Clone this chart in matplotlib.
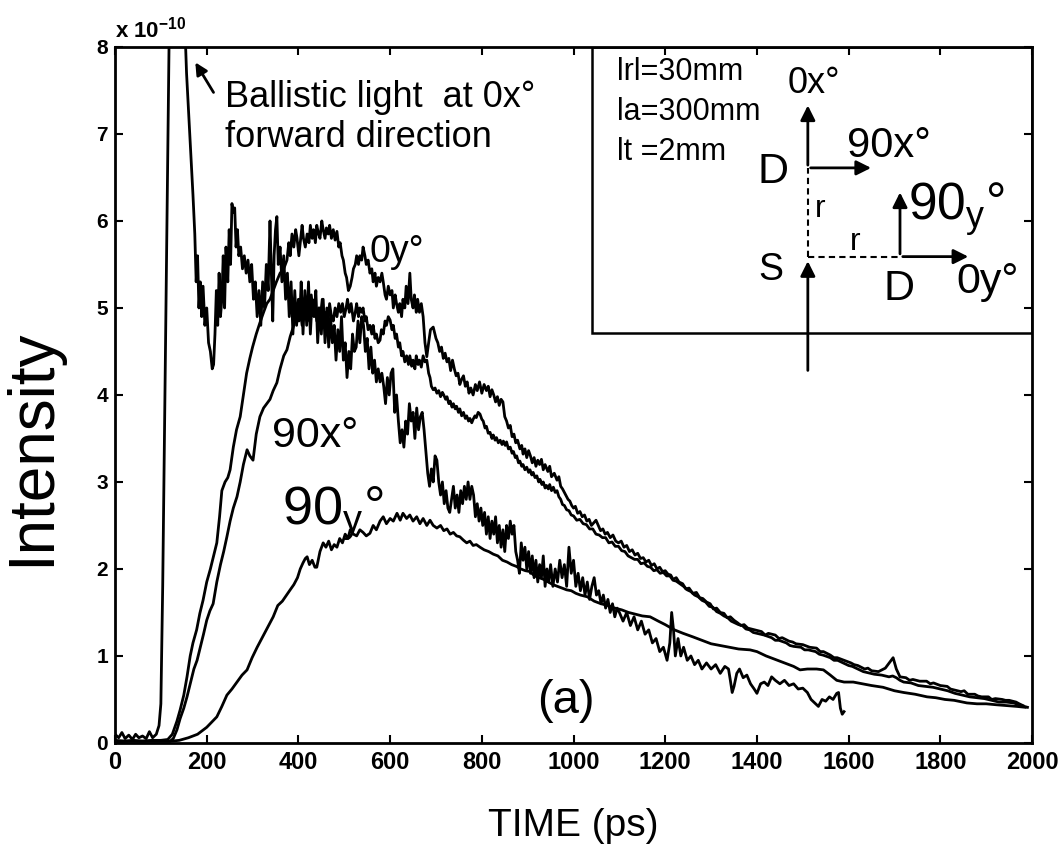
import numpy as np
import matplotlib
matplotlib.use("Agg")
from matplotlib import pyplot as plt
from matplotlib.patches import Rectangle

plt.rcParams['font.family'] = ['Liberation Sans', 'DejaVu Sans']
plt.rcParams['mathtext.default'] = 'regular'

# (time ps, intensity x1e-10)
# 0x : ballistic spike then noisy diffuse tail, stops at 1600 ps
curve_0x = [(0, 0.1), (8, 0.06), (15, 0.12), (22, 0.05), (30, 0.09), (38, 0.04), (45, 0.1), (52, 0.06),
            (60, 0.08), (68, 0.05), (75, 0.13), (82, 0.06), (90, 0.1), (96, 0.2), (100, 0.45),
            (104, 1.8), (108, 3.6), (112, 5.4), (116, 7.2), (120, 9.0), (126, 11.0), (132, 12.0),
            (138, 12.0), (144, 11.0), (150, 8.6), (156, 7.7), (160, 7.3), (165, 6.8), (170, 6.3),
            (174, 5.85), (177, 5.3), (180, 5.6), (183, 5.0), (186, 5.3), (189, 4.9), (192, 5.25),
            (196, 4.8), (200, 5.0), (204, 4.6), (208, 4.5), (212, 4.3), (215, 4.35), (218, 4.7),
            (221, 5.2), (224, 4.8), (227, 5.4), (230, 4.9), (233, 5.1), (236, 5.6), (239, 5.0),
            (242, 5.7), (246, 5.3), (249, 5.9), (252, 5.5), (255, 6.2), (258, 6.1), (261, 6.15),
            (264, 5.7), (267, 5.9), (270, 5.6), (274, 5.7), (278, 5.45), (282, 5.6), (286, 5.4),
            (290, 5.55), (294, 5.3), (298, 5.5), (302, 5.1), (306, 5.3), (310, 4.9), (314, 5.2),
            (318, 4.8), (322, 5.3), (326, 5.0), (330, 5.5), (334, 5.2), (338, 6.0), (341, 5.4),
            (344, 4.85), (347, 5.6), (350, 5.9), (353, 6.05), (356, 5.5), (360, 5.7), (364, 5.3),
            (368, 5.6), (372, 5.1), (376, 5.4), (380, 4.9), (384, 5.3), (388, 4.7), (392, 5.2),
            (396, 4.8), (400, 5.1), (403, 4.9), (406, 5.3), (410, 4.7), (414, 5.2), (418, 4.8),
            (422, 5.3), (426, 4.7), (430, 5.1), (434, 4.9), (438, 5.2), (442, 4.6), (446, 5.0),
            (450, 4.7), (454, 5.1), (458, 4.6), (462, 5.0), (466, 4.55), (470, 4.9), (474, 4.6),
            (478, 4.8), (482, 4.4), (486, 4.75), (490, 4.5), (494, 4.9), (498, 4.4), (502, 4.6),
            (506, 4.2), (510, 4.5), (514, 4.3), (518, 4.7), (522, 4.5), (526, 4.55), (530, 4.85),
            (534, 4.6), (538, 4.9), (542, 4.8), (546, 4.5), (550, 4.65), (554, 4.3), (558, 4.55),
            (562, 4.25), (566, 4.4), (570, 4.15), (574, 4.3), (578, 4.15), (582, 4.25), (586, 4.1),
            (590, 3.9), (594, 4.2), (598, 4.0), (602, 4.25), (606, 4.3), (610, 3.8), (614, 4.0),
            (618, 3.7), (622, 3.45), (626, 3.6), (630, 3.4), (634, 3.7), (638, 3.55), (642, 3.9),
            (646, 3.7), (650, 3.8), (654, 3.5), (658, 3.85), (662, 3.6), (666, 3.75), (670, 3.8),
            (674, 3.6), (678, 3.35), (682, 3.1), (686, 2.95), (690, 3.15), (694, 3.0), (698, 3.3),
            (702, 3.25), (706, 3.0), (710, 2.85), (714, 3.0), (718, 2.75), (722, 2.9), (726, 2.7),
            (730, 2.65), (734, 2.8), (738, 2.95), (742, 2.7), (746, 2.85), (750, 2.65), (754, 2.9),
            (758, 2.75), (762, 2.95), (766, 2.8), (770, 3.0), (774, 2.8), (778, 2.95), (782, 2.85),
            (786, 2.6), (790, 2.75), (794, 2.55), (798, 2.7), (802, 2.5), (806, 2.65), (810, 2.4),
            (814, 2.6), (818, 2.35), (822, 2.55), (826, 2.4), (830, 2.6), (834, 2.3), (838, 2.5),
            (842, 2.25), (846, 2.45), (850, 2.2), (854, 2.5), (858, 2.35), (862, 2.55), (866, 2.4),
            (870, 2.5), (874, 2.2), (878, 2.1), (882, 1.95), (886, 2.3), (890, 2.1), (894, 2.25),
            (898, 2.0), (902, 2.2), (906, 1.95), (910, 2.15), (914, 1.9), (918, 2.1), (922, 1.85),
            (926, 2.05), (930, 1.9), (934, 2.15), (938, 1.8), (942, 2.0), (946, 1.85), (950, 2.05),
            (955, 1.8), (960, 2.0), (965, 1.85), (970, 2.1), (975, 1.9), (980, 2.05), (985, 1.8),
            (990, 2.25), (995, 1.95), (1000, 2.1), (1005, 1.8), (1010, 1.95), (1015, 1.75),
            (1020, 1.9), (1025, 1.7), (1030, 1.85), (1035, 1.65), (1040, 1.8), (1045, 1.9),
            (1050, 1.7), (1055, 1.75), (1060, 1.6), (1065, 1.7), (1070, 1.55), (1075, 1.65),
            (1080, 1.5), (1085, 1.6), (1090, 1.45), (1095, 1.55), (1100, 1.5), (1108, 1.4),
            (1116, 1.5), (1124, 1.35), (1132, 1.45), (1140, 1.3), (1148, 1.4), (1156, 1.25),
            (1164, 1.3), (1172, 1.15), (1180, 1.2), (1188, 1.05), (1196, 1.1), (1204, 0.95),
            (1210, 1.15), (1214, 1.5), (1218, 1.3), (1222, 1.0), (1228, 1.2), (1234, 1.0),
            (1240, 1.1), (1248, 0.95), (1256, 1.0), (1264, 0.9), (1272, 0.95), (1280, 0.85),
            (1290, 0.92), (1300, 0.85), (1310, 0.9), (1320, 0.8), (1330, 0.88), (1338, 0.85),
            (1342, 0.72), (1346, 0.58), (1350, 0.65), (1356, 0.8), (1362, 0.85), (1370, 0.75),
            (1378, 0.78), (1386, 0.68), (1394, 0.62), (1400, 0.57), (1408, 0.68), (1416, 0.7),
            (1424, 0.66), (1432, 0.76), (1440, 0.72), (1450, 0.68), (1460, 0.72), (1470, 0.66),
            (1480, 0.68), (1490, 0.62), (1500, 0.63), (1510, 0.58), (1518, 0.5), (1526, 0.46),
            (1534, 0.42), (1542, 0.5), (1550, 0.48), (1558, 0.53), (1566, 0.5), (1574, 0.57),
            (1578, 0.58), (1582, 0.4), (1586, 0.33), (1590, 0.36)]

# 0y : highest diffuse curve
curve_0y = [(0, 0.03), (20, 0.02), (40, 0.03), (60, 0.02), (80, 0.03), (100, 0.03), (115, 0.04),
            (125, 0.1), (135, 0.25), (142, 0.38), (150, 0.55), (157, 0.76), (164, 1.0), (170, 1.15),
            (178, 1.3), (185, 1.49), (192, 1.64), (200, 1.85), (208, 2.0), (215, 2.15), (222, 2.3),
            (228, 2.6), (233, 2.9), (240, 3.0), (246, 3.05), (251, 3.14), (258, 3.4), (265, 3.6),
            (273, 3.75), (280, 4.0), (287, 4.25), (294, 4.42), (300, 4.55), (308, 4.7), (316, 4.83),
            (324, 4.95), (331, 5.05), (338, 5.1), (345, 5.2), (352, 5.3), (360, 5.4), (368, 5.45),
            (375, 5.55), (379, 5.75), (382, 5.6), (386, 5.85), (390, 5.7), (394, 5.9), (397, 5.8),
            (401, 5.6), (404, 5.75), (408, 5.95), (411, 5.8), (415, 5.7), (419, 5.85), (423, 5.75),
            (426, 5.95), (430, 5.8), (433, 5.9), (437, 5.75), (440, 5.95), (444, 5.85), (447, 5.8),
            (451, 6.0), (454, 5.9), (458, 5.8), (461, 5.92), (465, 5.85), (468, 5.95), (472, 5.8),
            (476, 5.9), (480, 5.78), (484, 5.88), (488, 5.7), (491, 5.75), (495, 5.6), (498, 5.55),
            (502, 5.4), (505, 5.35), (509, 5.2), (513, 5.25), (517, 5.35), (520, 5.45), (524, 5.5),
            (527, 5.6), (531, 5.5), (534, 5.6), (538, 5.55), (541, 5.7), (545, 5.6), (548, 5.5),
            (552, 5.55), (556, 5.4), (560, 5.45), (563, 5.3), (567, 5.4), (570, 5.25), (574, 5.35),
            (578, 5.3), (582, 5.4), (585, 5.3), (589, 5.15), (592, 5.1), (596, 5.25), (600, 5.15),
            (604, 5.2), (607, 5.0), (611, 5.15), (614, 5.05), (618, 4.95), (621, 5.05), (625, 4.9),
            (628, 5.1), (632, 5.0), (635, 5.25), (639, 5.05), (643, 5.4), (646, 5.1), (650, 5.0),
            (653, 5.15), (657, 4.95), (660, 5.1), (664, 4.95), (668, 5.05), (672, 4.9), (676, 4.6),
            (680, 4.44), (684, 4.6), (688, 4.75), (694, 4.78), (700, 4.65), (704, 4.6), (708, 4.5),
            (712, 4.55), (716, 4.42), (720, 4.48), (724, 4.38), (728, 4.42), (732, 4.28), (736, 4.4),
            (740, 4.3), (744, 4.22), (748, 4.25), (752, 4.12), (756, 4.18), (760, 4.22), (764, 4.1),
            (768, 4.15), (772, 4.02), (776, 4.08), (781, 4.0), (786, 4.12), (790, 4.05), (795, 4.15),
            (800, 4.02), (805, 4.12), (810, 4.05), (814, 4.1), (818, 3.98), (822, 4.06), (826, 4.0),
            (830, 3.92), (834, 3.98), (838, 3.88), (842, 3.95), (846, 3.92), (850, 3.75), (854, 3.7),
            (858, 3.62), (862, 3.65), (866, 3.52), (870, 3.55), (874, 3.45), (878, 3.48), (883, 3.38),
            (887, 3.42), (890, 3.32), (894, 3.38), (898, 3.28), (902, 3.36), (906, 3.3), (910, 3.22),
            (914, 3.28), (918, 3.18), (922, 3.25), (926, 3.2), (930, 3.26), (934, 3.14), (938, 3.2),
            (944, 3.12), (948, 3.18), (952, 3.06), (958, 3.1), (964, 3.02), (968, 3.06), (972, 2.95),
            (976, 2.92), (980, 2.88), (984, 2.84), (988, 2.8), (992, 2.78), (996, 2.73), (1000, 2.7),
            (1004, 2.72), (1009, 2.64), (1014, 2.66), (1019, 2.6), (1024, 2.62), (1029, 2.55),
            (1034, 2.57), (1039, 2.5), (1044, 2.53), (1049, 2.56), (1054, 2.5), (1059, 2.44),
            (1064, 2.46), (1069, 2.4), (1074, 2.42), (1080, 2.36), (1086, 2.39), (1092, 2.32),
            (1098, 2.3), (1104, 2.32), (1110, 2.25), (1116, 2.27), (1122, 2.2), (1128, 2.22),
            (1134, 2.16), (1140, 2.18), (1146, 2.12), (1152, 2.13), (1158, 2.08), (1164, 2.1),
            (1170, 2.04), (1176, 2.06), (1182, 2.0), (1188, 2.02), (1194, 1.97), (1200, 1.98),
            (1206, 1.94), (1212, 1.93), (1217, 1.88), (1224, 1.9), (1230, 1.85), (1238, 1.83),
            (1245, 1.77), (1252, 1.78), (1260, 1.72), (1268, 1.73), (1275, 1.67), (1282, 1.66),
            (1290, 1.62), (1298, 1.6), (1305, 1.54), (1312, 1.55), (1320, 1.5), (1328, 1.49),
            (1335, 1.44), (1342, 1.45), (1350, 1.41), (1358, 1.38), (1365, 1.35), (1372, 1.36),
            (1380, 1.32), (1395, 1.3), (1410, 1.28), (1418, 1.24), (1425, 1.26), (1440, 1.24),
            (1448, 1.2), (1455, 1.21), (1470, 1.17), (1478, 1.16), (1485, 1.14), (1500, 1.13),
            (1515, 1.1), (1530, 1.09), (1538, 1.05), (1545, 1.05), (1560, 1.01), (1568, 0.98),
            (1575, 0.98), (1590, 0.95), (1605, 0.92), (1612, 0.9), (1620, 0.89), (1635, 0.85),
            (1642, 0.86), (1650, 0.83), (1665, 0.82), (1680, 0.86), (1690, 0.93), (1697, 0.98),
            (1704, 0.85), (1712, 0.76), (1725, 0.75), (1733, 0.72), (1740, 0.73), (1755, 0.71),
            (1770, 0.71), (1778, 0.68), (1785, 0.69), (1800, 0.66), (1815, 0.65), (1822, 0.62),
            (1830, 0.61), (1845, 0.59), (1852, 0.6), (1860, 0.56), (1875, 0.56), (1882, 0.54),
            (1890, 0.53), (1905, 0.53), (1912, 0.5), (1920, 0.51), (1935, 0.5), (1942, 0.49),
            (1950, 0.49), (1965, 0.47), (1972, 0.45), (1980, 0.43)]

# 90x
curve_90x = [(0, 0.02), (40, 0.02), (80, 0.02), (120, 0.02), (127, 0.05), (135, 0.15), (142, 0.28),
             (150, 0.4), (157, 0.53), (165, 0.7), (172, 0.85), (179, 0.95), (186, 1.1), (193, 1.25),
             (200, 1.41), (207, 1.52), (214, 1.6), (222, 1.85), (230, 2.05), (237, 2.2), (244, 2.37),
             (251, 2.55), (258, 2.7), (266, 2.83), (273, 3.0), (280, 3.2), (288, 3.37), (294, 3.3),
             (301, 3.25), (308, 3.55), (316, 3.75), (324, 3.85), (331, 3.9), (338, 3.95), (345, 4.05),
             (353, 4.14), (360, 4.3), (368, 4.45), (375, 4.52), (382, 4.67), (390, 4.8), (397, 4.98),
             (401, 4.85), (404, 5.0), (408, 4.8), (412, 5.1), (416, 4.9), (420, 5.0), (424, 4.85),
             (428, 5.15), (432, 4.95), (436, 5.05), (440, 4.85), (444, 5.0), (448, 4.9), (452, 5.1),
             (456, 4.85), (460, 4.95), (464, 4.8), (468, 5.05), (472, 4.9), (476, 4.85), (480, 5.0),
             (484, 4.9), (488, 5.05), (492, 4.95), (496, 5.05), (500, 4.9), (504, 5.0), (507, 5.1),
             (511, 4.95), (515, 5.05), (520, 4.85), (524, 4.95), (527, 5.05), (531, 4.9), (534, 5.0),
             (538, 4.95), (541, 5.0), (545, 4.85), (548, 4.9), (552, 4.75), (556, 4.8), (560, 4.7),
             (563, 4.8), (567, 4.65), (570, 4.7), (574, 4.6), (578, 4.63), (581, 4.75), (585, 4.7),
             (589, 4.85), (592, 4.8), (596, 4.9), (600, 4.86), (604, 4.75), (607, 4.8), (611, 4.65),
             (614, 4.7), (618, 4.55), (621, 4.6), (625, 4.45), (628, 4.5), (632, 4.38), (636, 4.45),
             (640, 4.35), (643, 4.45), (647, 4.33), (650, 4.4), (654, 4.3), (657, 4.45), (661, 4.35),
             (664, 4.4), (668, 4.32), (672, 4.45), (676, 4.38), (680, 4.4), (684, 4.25), (687, 4.2),
             (690, 4.1), (694, 4.06), (698, 4.08), (702, 4.02), (706, 4.05), (710, 3.98), (714, 4.03),
             (717, 4.0), (721, 3.95), (724, 3.98), (728, 3.9), (731, 3.93), (735, 3.86), (738, 3.9),
             (742, 3.84), (745, 3.87), (749, 3.8), (752, 3.84), (756, 3.76), (760, 3.8), (764, 3.73),
             (767, 3.76), (771, 3.7), (774, 3.73), (778, 3.68), (781, 3.72), (785, 3.76), (788, 3.74),
             (792, 3.8), (796, 3.78), (800, 3.72), (803, 3.7), (807, 3.62), (810, 3.64), (814, 3.56),
             (818, 3.57), (822, 3.5), (825, 3.54), (829, 3.48), (832, 3.51), (836, 3.45), (840, 3.48),
             (844, 3.43), (847, 3.47), (851, 3.42), (854, 3.46), (858, 3.38), (862, 3.4), (866, 3.33),
             (869, 3.35), (873, 3.28), (876, 3.3), (880, 3.22), (883, 3.24), (887, 3.18), (890, 3.2),
             (894, 3.14), (898, 3.17), (902, 3.11), (905, 3.14), (909, 3.08), (912, 3.11), (916, 3.05),
             (920, 3.07), (924, 3.0), (927, 3.03), (931, 2.97), (934, 3.0), (938, 2.93), (941, 2.96),
             (945, 2.92), (948, 2.97), (952, 2.9), (956, 2.94), (960, 2.88), (964, 2.9), (968, 2.83),
             (972, 2.8), (976, 2.74), (980, 2.73), (985, 2.68), (990, 2.67), (995, 2.62), (1000, 2.61),
             (1007, 2.56), (1014, 2.57), (1021, 2.52), (1028, 2.51), (1035, 2.46), (1042, 2.46),
             (1049, 2.4), (1056, 2.39), (1063, 2.36), (1070, 2.36), (1077, 2.3), (1084, 2.31),
             (1091, 2.26), (1098, 2.26), (1105, 2.21), (1112, 2.2), (1119, 2.15), (1126, 2.13),
             (1133, 2.11), (1140, 2.11), (1147, 2.06), (1154, 2.07), (1161, 2.03), (1168, 2.02),
             (1175, 1.98), (1182, 1.99), (1189, 1.95), (1196, 1.96), (1203, 1.92), (1210, 1.92),
             (1217, 1.87), (1224, 1.86), (1232, 1.83), (1240, 1.8), (1248, 1.76), (1256, 1.74),
             (1264, 1.7), (1272, 1.68), (1280, 1.64), (1288, 1.62), (1296, 1.57), (1304, 1.56),
             (1312, 1.51), (1320, 1.49), (1328, 1.46), (1336, 1.44), (1344, 1.4), (1352, 1.38),
             (1360, 1.36), (1368, 1.35), (1376, 1.31), (1384, 1.3), (1392, 1.27), (1400, 1.26),
             (1416, 1.24), (1432, 1.21), (1440, 1.18), (1448, 1.18), (1464, 1.15), (1472, 1.12),
             (1480, 1.11), (1496, 1.1), (1504, 1.07), (1512, 1.07), (1528, 1.05), (1536, 1.02),
             (1544, 1.01), (1560, 0.98), (1568, 0.95), (1576, 0.95), (1592, 0.91), (1600, 0.89),
             (1608, 0.88), (1624, 0.84), (1632, 0.82), (1640, 0.81), (1656, 0.79), (1672, 0.78),
             (1688, 0.76), (1696, 0.77), (1704, 0.75), (1712, 0.72), (1720, 0.7), (1736, 0.69),
             (1752, 0.66), (1768, 0.65), (1784, 0.64), (1800, 0.62), (1816, 0.6), (1832, 0.57),
             (1848, 0.55), (1864, 0.53), (1880, 0.52), (1896, 0.51), (1912, 0.49), (1928, 0.47),
             (1944, 0.47), (1960, 0.46), (1976, 0.43), (1990, 0.41)]

# 90y : lowest curve
curve_90y = [(0, 0.02), (40, 0.02), (80, 0.02), (120, 0.02), (140, 0.03), (160, 0.06), (180, 0.1),
             (200, 0.18), (211, 0.24), (222, 0.3), (233, 0.42), (244, 0.55), (255, 0.62), (266, 0.7),
             (277, 0.78), (288, 0.84), (299, 0.98), (310, 1.1), (322, 1.22), (333, 1.33), (345, 1.45),
             (355, 1.58), (365, 1.63), (374, 1.7), (382, 1.76), (390, 1.82), (398, 1.9), (404, 2.0),
             (410, 2.07), (415, 2.12), (419, 2.14), (424, 2.05), (430, 2.1), (436, 2.02), (440, 2.02),
             (447, 2.2), (454, 2.3), (460, 2.25), (466, 2.32), (472, 2.22), (478, 2.28), (484, 2.25),
             (490, 2.35), (496, 2.3), (502, 2.4), (508, 2.35), (513, 2.45), (520, 2.4), (527, 2.38),
             (534, 2.45), (541, 2.42), (548, 2.38), (556, 2.41), (563, 2.5), (570, 2.45), (578, 2.55),
             (585, 2.6), (592, 2.52), (600, 2.58), (607, 2.55), (615, 2.64), (622, 2.56), (628, 2.64),
             (636, 2.58), (643, 2.62), (650, 2.55), (658, 2.6), (665, 2.52), (672, 2.58), (680, 2.5),
             (687, 2.56), (694, 2.5), (702, 2.47), (710, 2.5), (717, 2.44), (724, 2.46), (731, 2.4),
             (738, 2.42), (745, 2.38), (752, 2.37), (760, 2.33), (767, 2.3), (774, 2.32), (781, 2.27),
             (788, 2.28), (796, 2.25), (805, 2.22), (815, 2.2), (825, 2.17), (835, 2.15), (845, 2.1),
             (855, 2.08), (865, 2.05), (875, 2.03), (885, 2.0), (895, 1.98), (905, 1.97), (915, 1.92),
             (925, 1.9), (935, 1.88), (945, 1.85), (955, 1.82), (965, 1.8), (975, 1.78), (985, 1.76),
             (995, 1.75), (1005, 1.72), (1015, 1.7), (1030, 1.68), (1045, 1.63), (1060, 1.6),
             (1075, 1.58), (1090, 1.55), (1105, 1.53), (1120, 1.5), (1135, 1.48), (1150, 1.46),
             (1167, 1.45), (1185, 1.4), (1200, 1.36), (1220, 1.3), (1239, 1.26), (1260, 1.22),
             (1280, 1.18), (1300, 1.14), (1320, 1.12), (1340, 1.1), (1360, 1.08), (1385, 1.07),
             (1400, 1.05), (1420, 1.0), (1440, 0.96), (1460, 0.92), (1480, 0.88), (1494, 0.84),
             (1510, 0.85), (1530, 0.85), (1545, 0.84), (1560, 0.78), (1574, 0.72), (1590, 0.7),
             (1610, 0.7), (1630, 0.68), (1650, 0.66), (1675, 0.64), (1700, 0.6), (1720, 0.58),
             (1745, 0.56), (1771, 0.53), (1790, 0.52), (1810, 0.5), (1830, 0.49), (1858, 0.46),
             (1880, 0.45), (1900, 0.45), (1920, 0.44), (1945, 0.43), (1967, 0.42), (1985, 0.41)]

x_ticks = [0, 200, 400, 600, 800, 1000, 1200, 1400, 1600, 1800, 2000]
y_ticks = [0, 1, 2, 3, 4, 5, 6, 7, 8]

fig = plt.figure(figsize=(10.62, 8.49), dpi=100)
ax = fig.add_axes([0.1083, 0.1249, 0.8635, 0.8198])

for c in (curve_0x, curve_0y, curve_90x, curve_90y):
    t, v = np.array(c).T
    ax.plot(t, v, color='k', lw=2)

ax.set_xlim(0, 2000)
ax.set_ylim(0, 8)
ax.set_xticks(x_ticks)
ax.set_yticks(y_ticks)
ax.tick_params(direction='in', top=True, right=True, length=6, width=1.5)
ax.tick_params(axis='x', labelsize=17, pad=6)
ax.tick_params(axis='y', labelsize=15, pad=5)
for lab in ax.get_xticklabels() + ax.get_yticklabels():
    lab.set_fontweight('bold')
for s in ax.spines.values():
    s.set_linewidth(2)

ax.text(0.0, 1.013, r'x 10$^{-10}$', transform=ax.transAxes, fontsize=16,
        fontweight='bold', ha='left', va='baseline')

ax.set_xlabel('TIME (ps)', fontsize=28)
ax.xaxis.set_label_coords(0.5, -0.094)
ax.set_ylabel('Intensity', fontsize=46)
ax.yaxis.set_label_coords(-0.058, 0.425)

# ballistic note
ax.text(240, 7.31, 'Ballistic light  at 0x°', fontsize=26, va='baseline')
ax.text(240, 6.85, 'forward direction', fontsize=26, va='baseline')
ax.annotate('', xy=(172, 7.85), xytext=(218, 7.45),
            arrowprops=dict(arrowstyle='-|>', color='k', lw=2, mutation_scale=18))

# curve labels
ax.text(556, 5.53, '0y°', fontsize=27, va='baseline')
ax.text(342, 3.40, '90x°', fontsize=31, va='baseline')
ax.text(364, 2.51, r'90$_y$°', fontsize=39, va='baseline')
ax.text(920, 0.34, '(a)', fontsize=34, va='baseline')

# geometry inset
ax.add_patch(Rectangle((1040, 4.71), 960, 3.29, fill=False, lw=1.8, color='k'))
ax.text(1095, 7.62, 'lrl=30mm', fontsize=22, va='baseline')
ax.text(1095, 7.16, 'la=300mm', fontsize=22, va='baseline')
ax.text(1095, 6.70, 'lt =2mm', fontsize=22, va='baseline')
ax.text(1466, 7.47, '0x°', fontsize=26, va='baseline')
ax.text(1402, 6.44, 'D', fontsize=31, va='baseline')
ax.text(1597, 6.74, '90x°', fontsize=30, va='baseline')
ax.text(1527, 6.05, 'r', fontsize=23, va='baseline')
ax.text(1603, 5.67, 'r', fontsize=23, va='baseline')
ax.text(1730, 6.01, r'90$_y$°', fontsize=37, va='baseline')
ax.text(1402, 5.32, 'S', fontsize=27, va='baseline')
ax.text(1675, 5.09, 'D', fontsize=31, va='baseline')
ax.text(1836, 5.17, '0y°', fontsize=31, va='baseline')

arrow = dict(arrowstyle='-|>', color='k', lw=2, mutation_scale=22)
ax.annotate('', xy=(1511, 5.57), xytext=(1511, 4.25), arrowprops=arrow)
ax.annotate('', xy=(1511, 7.36), xytext=(1511, 6.61), arrowprops=arrow)
ax.annotate('', xy=(1655, 6.61), xytext=(1511, 6.61), arrowprops=arrow)
ax.annotate('', xy=(1712, 6.36), xytext=(1712, 5.59), arrowprops=arrow)
ax.annotate('', xy=(1867, 5.59), xytext=(1712, 5.59), arrowprops=arrow)
ax.plot([1511, 1511], [5.59, 6.61], color='k', lw=1.5, ls=(0, (3, 2)))
ax.plot([1511, 1712], [5.59, 5.59], color='k', lw=1.5, ls=(0, (3, 2)))

fig.savefig('out.png', dpi=100)
